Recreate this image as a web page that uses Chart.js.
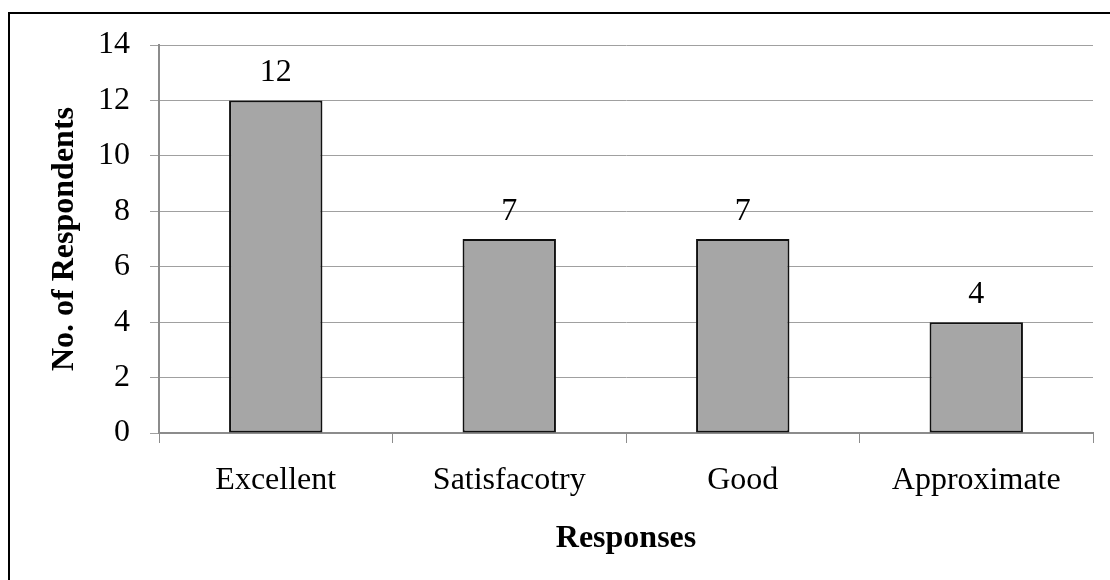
<!DOCTYPE html>
<html>
<head>
<meta charset="utf-8">
<script src="https://cdn.jsdelivr.net/npm/chart.js@4/dist/chart.umd.min.js"></script>
<style>
  html, body { margin: 0; padding: 0; background: #fff; }
  #wrap { position: relative; width: 1110px; height: 580px; overflow: hidden; }
  #frame { position: absolute; left: 8px; top: 12px; width: 1300px; height: 800px; border: 2px solid #000; box-sizing: border-box; }
  canvas { position: absolute; left: 0; top: 0; }
</style>
</head>
<body>
<div id="wrap">
  <div id="frame"></div>
  <canvas id="chart" width="1110" height="580"></canvas>
</div>
<script>
var categories = ['Excellent', 'Satisfacotry', 'Good', 'Approximate'];
var respondents = [12, 7, 7, 4];
var yTicks = [0, 2, 4, 6, 8, 10, 12, 14];

var serif = "'Liberation Serif', 'Times New Roman', serif";

// draws the value above each bar
var valueLabels = {
  id: 'valueLabels',
  afterDatasetsDraw(chart) {
    var ctx = chart.ctx;
    var meta = chart.getDatasetMeta(0);
    ctx.save();
    ctx.font = '32px ' + serif;
    ctx.fillStyle = '#000';
    ctx.textAlign = 'center';
    ctx.textBaseline = 'alphabetic';
    meta.data.forEach((bar, i) => {
      ctx.fillText(String(respondents[i]), bar.x, bar.y - 19);
    });
    ctx.restore();
  }
};

new Chart('chart', {
  type: 'bar',
  data: {
    labels: categories,
    datasets: [{
      data: respondents,
      backgroundColor: '#a6a6a6',
      borderColor: '#111',
      borderWidth: 2,
      borderSkipped: false,
      categoryPercentage: 1,
      barPercentage: 0.4,
    }],
  },
  options: {
    responsive: false,
    animation: false,
    layout: { padding: { left: 0, top: 45, right: 17, bottom: 0 } },
    plugins: {
      legend: { display: false },
      tooltip: { enabled: false },
    },
    scales: {
      x: {
        afterFit(scale) { scale.height = 147; },
        grid: { offset: true, drawOnChartArea: false, drawTicks: true, tickLength: 10, color: '#8c8c8c', lineWidth: 1 },
        border: { color: '#8c8c8c', width: 2 },
        ticks: { color: '#000', padding: 18, font: { family: serif, size: 32 } },
        title: {
          display: true,
          text: 'Responses',
          color: '#000',
          padding: { top: 0, bottom: 22 },
          font: { family: serif, size: 32, weight: 'bold', lineHeight: 1.2 },
        },
      },
      y: {
        min: 0,
        max: 14,
        afterFit(scale) { scale.width = 159; },
        afterBuildTicks(scale) { scale.ticks = yTicks.map((v) => ({ value: v })); },
        grid: { color: '#a0a0a0', lineWidth: 1, tickLength: 9 },
        border: { color: '#8c8c8c', width: 2 },
        ticks: { color: '#000', padding: 20, font: { family: serif, size: 32 } },
        title: {
          display: true,
          text: 'No. of Respondents',
          color: '#000',
          padding: { top: 46, bottom: 0 },
          font: { family: serif, size: 32, weight: 'bold', lineHeight: 1.2 },
        },
      },
    },
  },
  plugins: [valueLabels],
});
</script>
</body>
</html>
